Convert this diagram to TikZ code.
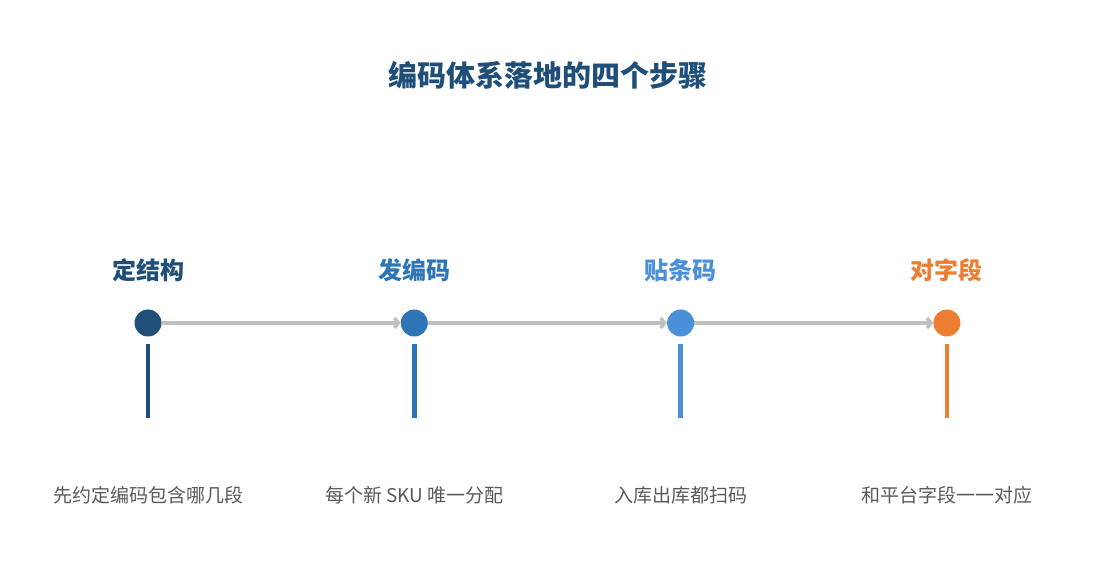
\documentclass[tikz,border=0pt]{standalone}
\usepackage{fontspec}
\setmainfont{Noto Sans CJK SC}
\usetikzlibrary{positioning,arrows.meta}

\definecolor{stepA}{HTML}{1F4E79}
\definecolor{stepB}{HTML}{2E75B6}
\definecolor{stepC}{HTML}{4A90D9}
\definecolor{stepD}{HTML}{ED7D31}
\definecolor{linkgray}{HTML}{C0C0C0}
\definecolor{desctext}{HTML}{595959}

\begin{document}
\begin{tikzpicture}[x=1pt, y=-1pt, node distance=266.3pt,
    dot/.style={circle, fill=#1, minimum size=27pt, inner sep=0pt},
    steplabel/.style={text=#1, font=\bfseries\fontsize{24}{28}\selectfont},
    stepdesc/.style={text=desctext, font=\fontsize{19}{22}\selectfont},
    stem/.style={draw=#1, line width=4.5pt},
    link/.style={draw=linkgray, line width=3.5pt, -{Straight Barb[length=4pt, width=10pt]}}]

    \useasboundingbox (0,0) rectangle (1095,585);

    \node[text=stepA, font=\bfseries\fontsize{29}{34}\selectfont] (title) at (547.5,75) {编码体系落地的四个步骤};

    % step dots
    \node[dot=stepA] (s1) at (148,323) {};
    \node[dot=stepB, right of=s1] (s2) {};
    \node[dot=stepC, right of=s2] (s3) {};
    \node[dot=stepD, right of=s3] (s4) {};

    \draw[link] (s1) -- (s2);
    \draw[link] (s2) -- (s3);
    \draw[link] (s3) -- (s4);

    % labels and stems
    \foreach \s/\c/\t/\d in {s1/stepA/定结构/先约定编码包含哪几段,
                             s2/stepB/发编码/每个新 SKU 唯一分配,
                             s3/stepC/贴条码/入库出库都扫码,
                             s4/stepD/对字段/和平台字段一一对应} {
        \node[steplabel=\c] (\s-label) at ([yshift=53pt]\s.center) {\t};
        \coordinate (\s-top) at ([yshift=-21pt]\s.center);
        \coordinate (\s-bot) at ([yshift=-95pt]\s.center);
        \draw[stem=\c] (\s-top) -- (\s-bot);
        \node[stepdesc] (\s-desc) at ([yshift=-172pt]\s.center) {\d};
    }

\end{tikzpicture}
\end{document}
